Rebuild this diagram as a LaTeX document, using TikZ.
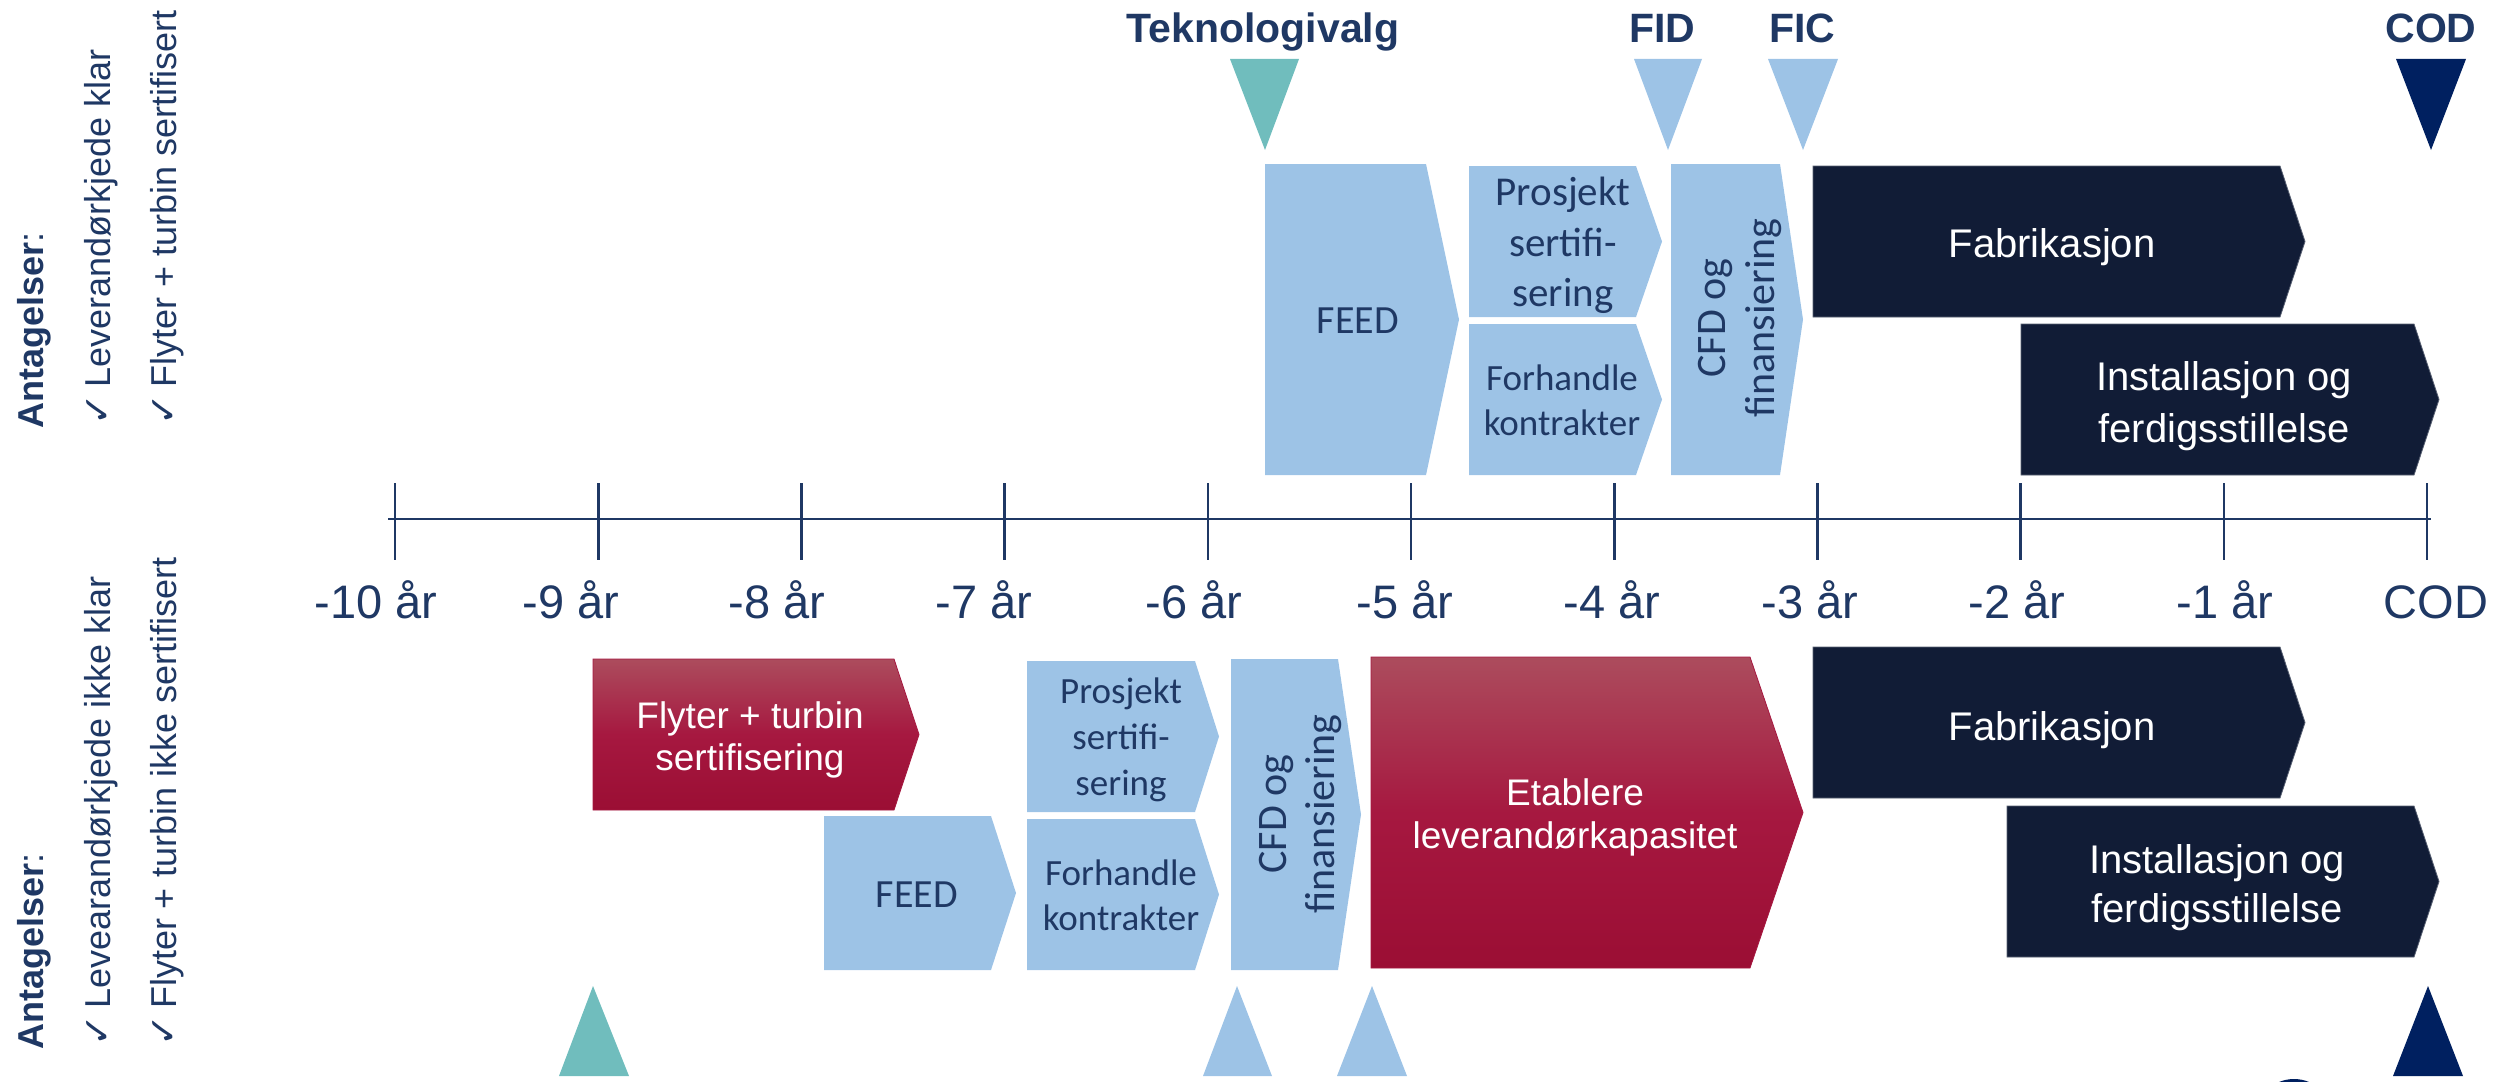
\documentclass[tikz,border=0pt]{standalone}
\usepackage{fontspec}
\setmainfont{Liberation Sans}
\newfontfamily\calfont{Carlito}
\newfontfamily\dvfont{DejaVu Sans}
\definecolor{navy}{RGB}{31,56,100}
\definecolor{lblue}{RGB}{157,195,230}
\definecolor{tealc}{RGB}{112,189,189}
\definecolor{dkfill}{RGB}{17,28,54}
\definecolor{codnavy}{RGB}{0,32,96}
\definecolor{redtop}{RGB}{172,76,93}
\definecolor{redmid}{RGB}{166,24,64}
\definecolor{redbot}{RGB}{155,14,52}
\tikzset{
  lbshape/.style={fill=lblue},
  darkshape/.style={fill=dkfill, draw=dkfill!70!white, line width=0.8pt},
  redshape/.style={top color=redtop, bottom color=redbot, middle color=redmid, draw=redmid, line width=0.8pt},
  milestone/.style={inner sep=0pt, anchor=base, text=navy, font=\fontsize{41}{49}\selectfont\bfseries},
  axlabel/.style={inner sep=0pt, anchor=base, text=navy, font=\fontsize{47}{56}\selectfont},
  whitetxt/.style={inner sep=0pt, anchor=base, text=white, font=\fontsize{40}{48}\selectfont},
  redtxt/.style={inner sep=0pt, anchor=base, text=white, font=\fontsize{37}{44}\selectfont},
  caltxt/.style={inner sep=0pt, anchor=base, text=navy, font=\calfont\fontsize{#1}{#1}\selectfont},
  rotcal/.style={inner sep=0pt, anchor=base, rotate=90, text=navy, font=\calfont\fontsize{42}{42}\selectfont},
  sidetxt/.style={inner sep=0pt, anchor=base west, rotate=90, text=navy, font=\fontsize{36}{42}\selectfont},
  axisline/.style={draw=navy, line width=2pt},
  tickline/.style={draw=navy, line width=2.6pt}
}
% chevron: x1, ytop, x2 (end of flat part), xpoint, ybottom, style
\newcommand\chevron[6]{\path[#6] (#1,#2) -- (#3,#2) -- (#4,{(#2+#5)/2}) -- (#3,#5) -- (#1,#5) -- cycle;}
\newcommand\ckmark{{\dvfont\fontsize{38}{38}\selectfont ✓}\,}
\begin{document}
\begin{tikzpicture}[x=1pt,y=-1pt]
\useasboundingbox (0,0) rectangle (2496,1081);
\begin{scope}
\clip (0,0) rectangle (2496,1081);

% ---------- top triangles ----------
\fill[tealc]   (1230,59) -- (1299,59) -- (1265,150) -- cycle;
\fill[lblue]   (1634,59) -- (1702,59) -- (1668,150) -- cycle;
\fill[lblue]   (1768,59) -- (1838,59) -- (1803,150) -- cycle;
\fill[codnavy] (2396,59) -- (2466,59) -- (2431,150) -- cycle;

% ---------- bottom triangles ----------
\fill[tealc]   (559,1076) -- (629,1076) -- (593,986) -- cycle;
\fill[lblue]   (1203,1076) -- (1272,1076) -- (1237,986) -- cycle;
\fill[lblue]   (1337,1076) -- (1407,1076) -- (1372,986) -- cycle;
\fill[codnavy] (2393,1076) -- (2463,1076) -- (2428,986) -- cycle;
\fill[codnavy] (2294,1118) circle (39);

% ---------- top row shapes ----------
\chevron{1265}{164}{1426}{1459}{475}{lbshape}
\chevron{1469}{166}{1636}{1662}{317}{lbshape}
\chevron{1469}{324}{1636}{1662}{475}{lbshape}
\chevron{1671}{164}{1780}{1803}{475}{lbshape}
\chevron{1813}{166}{2280}{2305}{317}{darkshape}
\chevron{2021}{324}{2414}{2439}{475}{darkshape}

% ---------- bottom row shapes ----------
\chevron{593}{659}{894}{919}{810}{redshape}
\chevron{824}{816}{991}{1016}{970}{lbshape}
\chevron{1027}{661}{1195}{1219}{812}{lbshape}
\chevron{1027}{819}{1195}{1219}{970}{lbshape}
\chevron{1231}{659}{1338}{1361}{970}{lbshape}
\chevron{1371}{657}{1750}{1803}{968}{redshape}
\chevron{1813}{647}{2280}{2305}{798}{darkshape}
\chevron{2007}{806}{2414}{2439}{957}{darkshape}
\end{scope}

% ---------- axis ----------
\coordinate (axL) at (388,519);
\coordinate (axR) at (2431,519);
\draw[axisline] (axL) -- (axR);
\foreach \k in {0,...,10} {
  \coordinate (tt\k) at ({395+203.2*\k},483);
  \coordinate (tb\k) at ({395+203.2*\k},560);
  \draw[tickline] (tt\k) -- (tb\k);
}
\node[axlabel] (a10) at (376,618) {-10 år};
\node[axlabel] (a9)  at (571,618) {-9 år};
\node[axlabel] (a8)  at (777,618) {-8 år};
\node[axlabel] (a7)  at (984,618) {-7 år};
\node[axlabel] (a6)  at (1194,618) {-6 år};
\node[axlabel] (a5)  at (1405,618) {-5 år};
\node[axlabel] (a4)  at (1612,618) {-4 år};
\node[axlabel] (a3)  at (1810,618) {-3 år};
\node[axlabel] (a2)  at (2017,618) {-2 år};
\node[axlabel] (a1)  at (2225,618) {-1 år};
\node[axlabel] (a0)  at (2436,618) {COD};

% ---------- milestone labels ----------
\node[milestone] (mtek) at (1263,43) {Teknologivalg};
\node[milestone] (mfid) at (1662,43) {FID};
\node[milestone] (mfic) at (1802,43) {FIC};
\node[milestone] (mcod) at (2431,43) {COD};

% ---------- top row texts ----------
\node[caltxt=40] (tfeed) at (1358,333) {FEED};
\node[caltxt=41] (tpr1) at (1563,205) {Prosjekt};
\node[caltxt=41] (tpr2) at (1563,256) {sertifi-};
\node[caltxt=41] (tpr3) at (1563,306) {sering};
\node[caltxt=37] (tfo1) at (1562,390) {Forhandle};
\node[caltxt=37] (tfo2) at (1562,435) {kontrakter};
\node[rotcal] (tcfd1) at (1725,318) {CFD og};
\node[rotcal] (tcfd2) at (1774,318) {finansiering};
\node[whitetxt] (tfab) at (2052,257) {Fabrikasjon};
\node[whitetxt] (tin1) at (2224,390) {Installasjon og};
\node[whitetxt] (tin2) at (2224,442) {ferdigsstillelse};

% ---------- bottom row texts ----------
\node[redtxt] (bfl1) at (750,728) {Flyter + turbin};
\node[redtxt] (bfl2) at (750,770) {sertifisering};
\node[caltxt=40] (bfeed) at (917,907) {FEED};
\node[caltxt=37] (bpr1) at (1121,703) {Prosjekt};
\node[caltxt=37] (bpr2) at (1121,749) {sertifi-};
\node[caltxt=37] (bpr3) at (1121,795) {sering};
\node[caltxt=37] (bfo1) at (1121,885) {Forhandle};
\node[caltxt=37] (bfo2) at (1121,930) {kontrakter};
\node[rotcal] (bcfd1) at (1286,814) {CFD og};
\node[rotcal] (bcfd2) at (1334,814) {finansiering};
\node[redtxt] (bet1) at (1575,805) {Etablere};
\node[redtxt] (bet2) at (1575,848) {leverandørkapasitet};
\node[whitetxt] (bfab) at (2052,740) {Fabrikasjon};
\node[whitetxt] (bin1) at (2217,873) {Installasjon og};
\node[whitetxt] (bin2) at (2217,922) {ferdigsstillelse};

% ---------- side texts ----------
\node[sidetxt] (sa1) at (43,429) {\textbf{Antagelser}:};
\node[sidetxt] (sa2) at (110,426) {\ckmark Leverandørkjede klar};
\node[sidetxt] (sa3) at (176,426) {\ckmark Flyter + turbin sertifisert};
\node[sidetxt] (sb1) at (43,1050) {\textbf{Antagelser}:};
\node[sidetxt] (sb2) at (110,1047) {\ckmark Levearandørkjede ikke klar};
\node[sidetxt] (sb3) at (176,1047) {\ckmark Flyter + turbin ikke sertifisert};
\end{tikzpicture}
\end{document}
